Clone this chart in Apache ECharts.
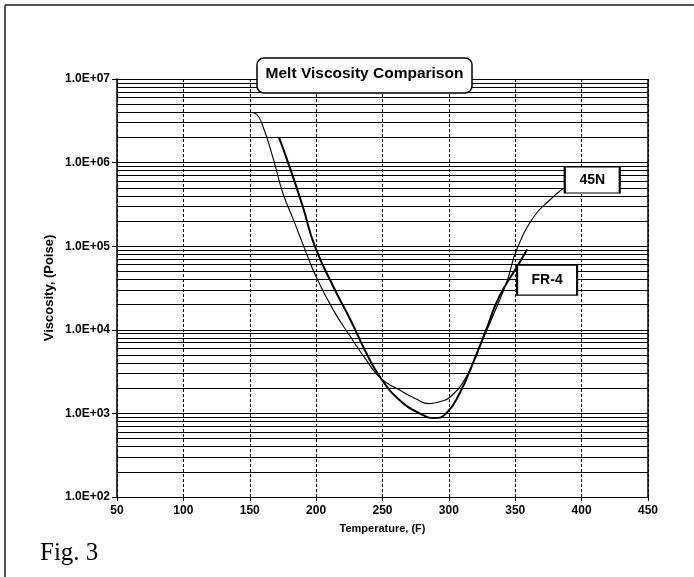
<!DOCTYPE html>
<html>
<head>
<meta charset="utf-8">
<script src="https://cdn.jsdelivr.net/npm/echarts@6/dist/echarts.min.js"></script>
<style>html,body{margin:0;padding:0;background:#fff}#c{width:694px;height:577px}</style>
</head>
<body>
<div id="c"></div>
<script>
// ---- data ----
const temp45N = [150, 155, 160, 168, 175, 183, 192, 200, 213, 226, 238, 249, 263, 275, 285, 293, 301, 313, 323, 334, 344, 351, 364, 376, 386];
const visc45N = [4.0e6, 3.8e6, 2.7e6, 1.07e6, 4.3e5, 2.05e5, 8.8e4, 4.3e4, 1.72e4, 8.2e3, 4.3e3, 2.6e3, 1.9e3, 1.5e3, 1.31e3, 1.38e3, 1.57e3, 2.73e3, 6.2e3, 1.57e4, 3.9e4, 9.0e4, 2.25e5, 3.57e5, 4.9e5];
const tempFR4 = [172, 180, 190, 199, 213, 226, 238, 249, 263, 278, 289, 298, 308, 318, 328, 338, 352, 359];
const viscFR4 = [2.0e6, 8.9e5, 2.96e5, 1.0e5, 3.27e4, 1.3e4, 5.2e3, 2.6e3, 1.44e3, 1.0e3, 8.8e2, 1.0e3, 1.73e3, 3.95e3, 9.9e3, 2.5e4, 5.9e4, 9.2e4];
const seriesNames = ['45N', 'FR-4'];
const label45N = [408, 6.2e5];
const labelFR4 = [374, 3.93e4];
const xMin = 50, xMax = 450, xStep = 50;
const yMin = 1e2, yMax = 1e7;
const titleText = 'Melt Viscosity Comparison';
const xName = 'Temperature, (F)';
const yName = 'Viscosity, (Poise)';
const figText = 'Fig. 3';

// minor log grid positions (2..9 within each decade)
const minorLines = [];
for (let e = 2; e < 7; e++) for (let m = 2; m <= 9; m++) minorLines.push({ yAxis: m * Math.pow(10, e) });

const SANS = '"Liberation Sans", Arial, sans-serif';

const chart = echarts.init(document.getElementById('c'), null, { renderer: 'canvas' });
chart.setOption({
  animation: false,
  backgroundColor: '#fff',
  grid: { left: 117, right: 46, top: 79, bottom: 80 },
  xAxis: {
    type: 'value', min: xMin, max: xMax, interval: xStep,
    name: xName, nameLocation: 'middle', nameGap: 26, nameMoveOverlap: false,
    nameTextStyle: { fontFamily: SANS, fontWeight: 'bold', fontSize: 11, color: '#000' },
    axisLine: { show: true, onZero: false, lineStyle: { color: '#000', width: 1 } },
    axisTick: { show: true, length: 4, lineStyle: { color: '#000' } },
    axisLabel: { color: '#000', fontFamily: SANS, fontWeight: 'bold', fontSize: 12, margin: 8 },
    splitLine: { show: true, lineStyle: { color: '#111', type: [3, 2], width: 1 } }
  },
  yAxis: {
    type: 'log', logBase: 10, min: yMin, max: yMax,
    name: yName, nameLocation: 'middle', nameGap: 61, nameRotate: 90, nameMoveOverlap: false,
    nameTextStyle: { fontFamily: SANS, fontWeight: 'bold', fontSize: 13, color: '#000' },
    axisLine: { show: true, onZero: false, lineStyle: { color: '#000', width: 1.5 } },
    axisTick: { show: true, length: 5, lineStyle: { color: '#000' } },
    axisLabel: {
      color: '#000', fontFamily: SANS, fontWeight: 'bold', fontSize: 12, margin: 7,
      formatter: v => '1.0E+' + String(Math.round(Math.log10(v))).padStart(2, '0')
    },
    splitLine: { show: true, lineStyle: { color: '#000', width: 1 } }
  },
  series: [
    {
      name: 'grid', type: 'line', data: [], silent: true,
      markLine: {
        silent: true, symbol: 'none', z: 1, label: { show: false },
        lineStyle: { color: '#000', width: 1, type: 'solid' },
        data: minorLines.concat([{ xAxis: xMax, lineStyle: { color: '#000', width: 1.5, type: 'solid' } }])
      }
    },
    {
      name: seriesNames[0], type: 'line', smooth: 0.5, showSymbol: false, z: 3,
      lineStyle: { color: '#000', width: 1.1 },
      data: temp45N.map((t, i) => [t, visc45N[i]]),
      markPoint: {
        symbol: 'rect', symbolSize: [55, 26], z: 10,
        itemStyle: { color: '#fff', borderColor: '#000', borderWidth: 1.5 },
        label: { show: true, position: 'inside', color: '#000', fontFamily: SANS, fontWeight: 'bold', fontSize: 14, formatter: seriesNames[0] },
        data: [{ coord: label45N }]
      }
    },
    {
      name: seriesNames[1], type: 'line', smooth: 0.5, showSymbol: false, z: 3,
      lineStyle: { color: '#000', width: 2 },
      data: tempFR4.map((t, i) => [t, viscFR4[i]]),
      markPoint: {
        symbol: 'rect', symbolSize: [60, 30], z: 10,
        itemStyle: { color: '#fff', borderColor: '#000', borderWidth: 1.5 },
        label: { show: true, position: 'inside', color: '#000', fontFamily: SANS, fontWeight: 'bold', fontSize: 14, formatter: seriesNames[1] },
        data: [{ coord: labelFR4 }]
      }
    }
  ],
  graphic: [
    { type: 'line', shape: { x1: 5, y1: 5, x2: 694, y2: 5 }, style: { stroke: '#555', lineWidth: 2 }, z: 100 },
    { type: 'line', shape: { x1: 5, y1: 5, x2: 5, y2: 577 }, style: { stroke: '#555', lineWidth: 2 }, z: 100 },
    { type: 'rect', shape: { x: 257, y: 58, width: 215, height: 35, r: 7 }, style: { fill: '#fff', stroke: '#000', lineWidth: 1.5 }, z: 100 },
    { type: 'text', x: 364.5, y: 74, z: 101,
      style: { text: titleText, font: 'bold 15.5px ' + SANS, fill: '#000', align: 'center', verticalAlign: 'middle', textAlign: 'center', textVerticalAlign: 'middle' } },
    { type: 'text', x: 40, y: 553, z: 101,
      style: { text: figText, font: '25px "Liberation Serif", "Times New Roman", serif', fill: '#000', align: 'left', verticalAlign: 'middle', textAlign: 'left', textVerticalAlign: 'middle' } }
  ]
});
</script>
</body>
</html>
